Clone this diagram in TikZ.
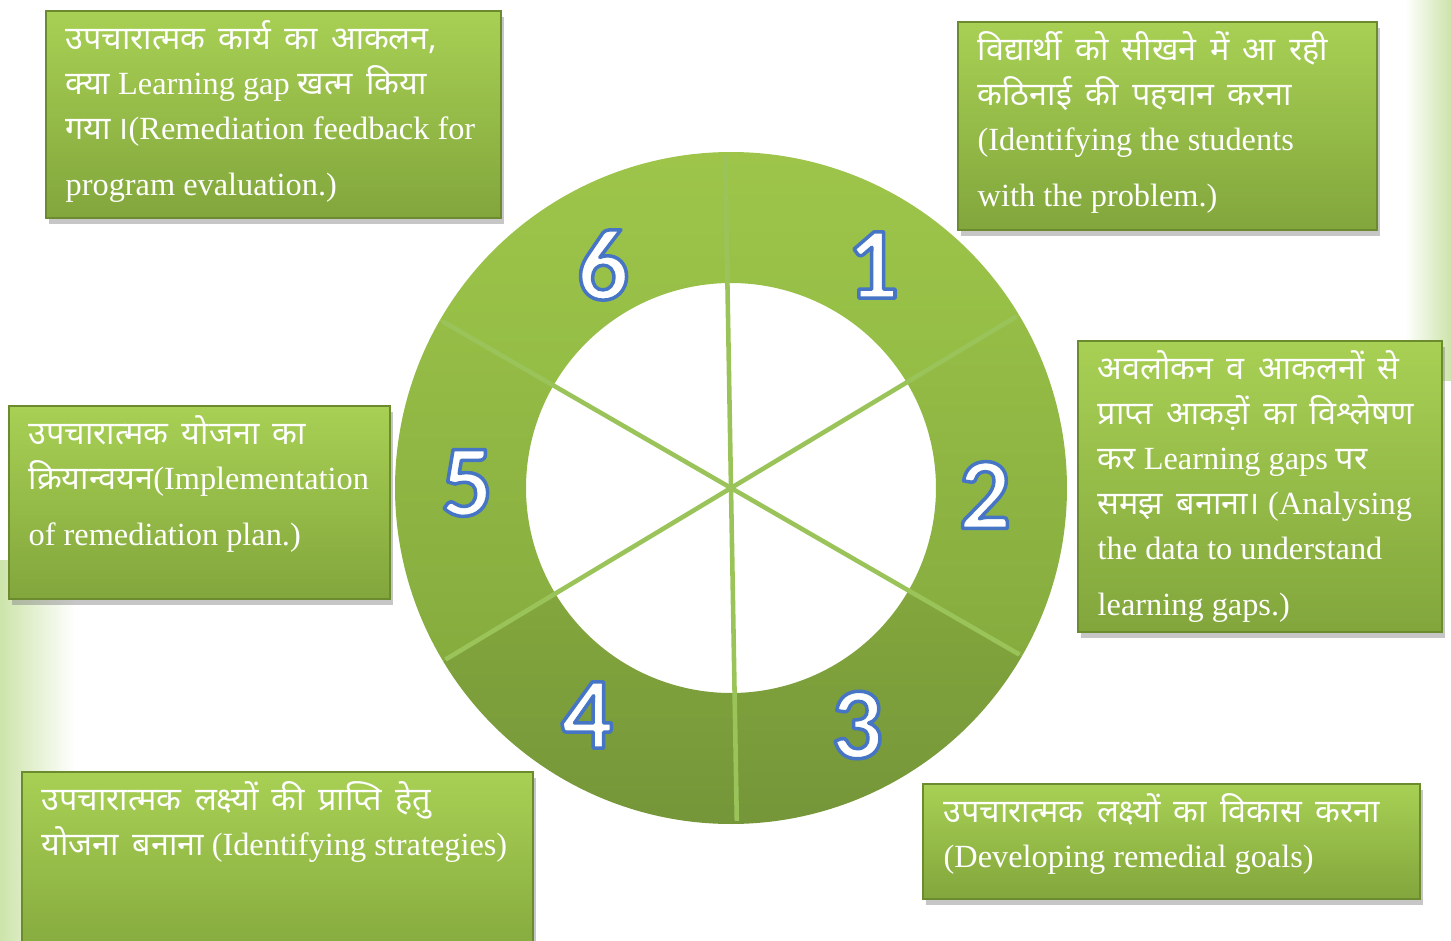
\documentclass[tikz,border=0pt]{standalone}
\usepackage{fontspec}
\setmainfont{Liberation Serif}
\newfontfamily\hifont[Script=Devanagari,WordSpace=1.6]{Noto Sans}
\newfontfamily\numfont{Carlito}
\usetikzlibrary{calc,shadows}
\definecolor{box-top}{RGB}{168,208,84}
\definecolor{box-bot}{RGB}{130,166,60}
\definecolor{box-edge}{RGB}{108,138,46}
\definecolor{ring-line}{RGB}{154,196,90}
\definecolor{wash}{RGB}{205,228,170}
\tikzstyle{stepbox}=[draw=box-edge, line width=0.6pt, top color=box-top, bottom color=box-bot, drop shadow={shadow xshift=0.8pt, shadow yshift=-1.6pt, opacity=0.45}, inner sep=0pt, anchor=north west]
\tikzstyle{boxtext}=[text=white, font=\fontsize{9.2}{12.8}\selectfont, align=left, inner sep=0pt, anchor=north west]
\tikzstyle{ringnum}=[font=\numfont\bfseries\fontsize{29}{30}\selectfont, text=white, inner sep=0pt]
\newcommand{\hi}[1]{{\hifont #1}}
% white digit with a blue outline
\newcommand{\outlined}[1]{\special{pdf:literal direct 0.27 0.46 0.77 RG 1.0 w 1 j 2 Tr}#1\special{pdf:literal direct 0 Tr}}

\begin{document}
\begin{tikzpicture}
	\useasboundingbox (0,0) rectangle (14.51,9.40);
	\shade[left color=white, right color=wash] (14.05,5.60) rectangle (14.51,9.40);
	\shade[left color=wash, right color=white] (0,0) rectangle (0.75,3.80);
	% ring
	\coordinate (c) at (7.31,4.52);
	\foreach \a/\b/\ct/\cb in {31/91/{rgb,255:red,158;green,197;blue,74}/{rgb,255:red,148;green,189;blue,70},
		-30/31/{rgb,255:red,150;green,189;blue,70}/{rgb,255:red,134;green,172;blue,63},
		-89/-30/{rgb,255:red,131;green,166;blue,61}/{rgb,255:red,117;green,150;blue,57},
		-149/-89/{rgb,255:red,131;green,166;blue,61}/{rgb,255:red,117;green,150;blue,57},
		150/211/{rgb,255:red,150;green,189;blue,70}/{rgb,255:red,134;green,172;blue,63},
		91/150/{rgb,255:red,158;green,197;blue,74}/{rgb,255:red,148;green,189;blue,70}}
		\shade[top color=\ct, bottom color=\cb] ($(c)+(\a:3.36)$) arc[start angle=\a, end angle=\b, radius=3.36] -- ($(c)+(\b:2.05)$) arc[start angle=\b, end angle=\a, radius=2.05] -- cycle;
	\foreach \a in {91,31,-30,-89,-149,150}
		\draw[ring-line, line width=1.3pt] (c) -- ($(c)+(\a:3.33)$);
	% numbers
	\foreach \n/\x/\y in {1/8.73/6.75, 2/9.85/4.45, 3/8.57/2.15, 4/5.87/2.25, 5/4.67/4.57, 6/6.03/6.75}
		\node[ringnum] (num\n) at (\x,\y) {\outlined{\n}};
	% boxes
	\node[stepbox, minimum width=4.55cm, minimum height=2.07cm] (box6) at (0.45,9.30) {};
	\node[stepbox, minimum width=4.19cm, minimum height=2.08cm] (box1) at (9.57,9.19) {};
	\node[stepbox, minimum width=3.64cm, minimum height=2.91cm] (box2) at (10.77,6.00) {};
	\node[stepbox, minimum width=3.81cm, minimum height=1.93cm] (box5) at (0.08,5.35) {};
	\node[stepbox, minimum width=5.11cm, minimum height=2.00cm] (box4) at (0.21,1.69) {};
	\node[stepbox, minimum width=4.97cm, minimum height=1.15cm] (box3) at (9.22,1.57) {};
	% texts
	\node[boxtext] (txt6) at ($(box6.north west)+(0.20,-0.10)$) {\hi{उपचारात्मक कार्य का आकलन,}\\ \hi{क्या} Learning gap \hi{खत्म किया}\\ \hi{गया}\,\hi{।}(Remediation feedback for\\[3pt] program evaluation.)};
	\node[boxtext] (txt1) at ($(box1.north west)+(0.20,-0.10)$) {\hi{विद्यार्थी को सीखने में आ रही}\\ \hi{कठिनाई की पहचान करना}\\ (Identifying the students\\[3pt] with the problem.)};
	\node[boxtext] (txt2) at ($(box2.north west)+(0.20,-0.10)$) {\hi{अवलोकन व आकलनों से}\\ \hi{प्राप्त आकड़ों का विश्लेषण}\\ \hi{कर} Learning gaps \hi{पर}\\ \hi{समझ बनाना।} (Analysing\\ the data to understand\\[3pt] learning gaps.)};
	\node[boxtext] (txt5) at ($(box5.north west)+(0.20,-0.10)$) {\hi{उपचारात्मक योजना का}\\ \hi{क्रियान्वयन}(Implementation\\[3pt] of remediation plan.)};
	\node[boxtext] (txt4) at ($(box4.north west)+(0.20,-0.10)$) {\hi{उपचारात्मक लक्ष्यों की प्राप्ति हेतु}\\ \hi{योजना बनाना} (Identifying strategies)};
	\node[boxtext] (txt3) at ($(box3.north west)+(0.21,-0.10)$) {\hi{उपचारात्मक लक्ष्यों का विकास करना}\\ (Developing remedial goals)};
\end{tikzpicture}
\end{document}
